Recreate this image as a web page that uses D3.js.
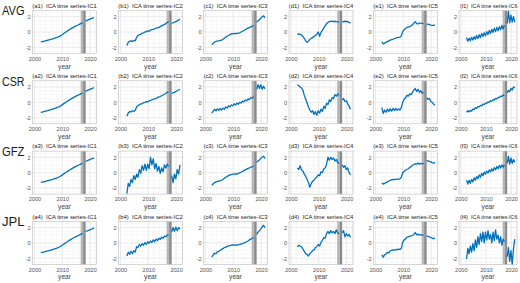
<!DOCTYPE html>
<html><head><meta charset="utf-8">
<script src="https://cdn.jsdelivr.net/npm/d3@7"></script>
<style>body{margin:0;background:#fff}svg{display:block}</style>
</head><body><svg id="c" width="520" height="283"></svg>
<script>
// time axis (decimal years): GRACE (31) + GRACE-FO (7)
const years = [2002.3,2002.8,2003.3,2003.8,2004.3,2004.8,2005.3,2005.8,2006.3,2006.8,2007.3,2007.8,2008.3,2008.8,2009.3,2009.8,2010.3,2010.8,2011.3,2011.8,2012.3,2012.8,2013.3,2013.8,2014.3,2014.8,2015.3,2015.8,2016.3,2016.8,2017.3,
  2018.4,2018.9,2019.4,2019.9,2020.4,2020.9,2021.4];
const rowNames = ["AVG","CSR","GFZ","JPL"];
const colLetters = ["a","b","c","d","e","f"];
const xTicks = [2000,2010,2020];
const yTicks = [-2,0,2];
const gapLight = [2016.6,2017.5];
const gapDark = [2017.5,2018.4];

// AVG
const avgIC1 = [-1.30,-1.26,-1.22,-1.17,-1.12,-1.07,-1.02,-0.97,-0.92,-0.86,-0.80,-0.74,-0.68,-0.60,-0.50,-0.38,-0.25,-0.12,0.00,0.12,0.24,0.36,0.47,0.57,0.67,0.76,0.85,0.94,1.03,1.12,1.20, 1.42,1.52,1.60,1.68,1.75,1.82,1.88];
const avgIC2 = [-1.75,-1.35,-1.20,-1.15,-1.25,-1.10,-1.15,-0.70,-0.45,-0.35,-0.30,-0.15,-0.10,0.00,0.05,0.15,0.10,0.25,0.30,0.35,0.40,0.50,0.55,0.60,0.70,0.80,0.90,0.95,1.10,1.25,1.40, 1.15,1.20,1.30,1.35,1.45,1.55,1.70];
const avgIC3 = [-1.65,-1.45,-1.30,-1.20,-1.18,-1.15,-1.10,-1.05,-0.95,-0.80,-0.65,-0.55,-0.45,-0.35,-0.25,-0.20,-0.20,-0.18,-0.22,-0.15,-0.10,0.00,0.10,0.20,0.30,0.40,0.50,0.58,0.66,0.75,0.82, 1.30,1.45,1.60,1.80,2.00,2.10,1.85];
const avgIC4 = [-0.35,-0.25,-0.30,-0.40,-0.55,-0.85,-1.15,-1.35,-1.20,-0.95,-0.85,-0.70,-0.60,-0.45,-0.30,0.00,-0.55,-0.05,0.20,0.55,0.80,1.10,1.25,1.35,1.38,1.40,1.35,1.40,1.35,1.32,1.30, 1.30,1.35,1.40,1.35,1.38,1.25,1.15];
const avgIC5 = [-1.30,-1.55,-1.45,-1.35,-1.25,-1.15,-1.05,-1.00,-0.95,-0.85,-0.80,-0.72,-0.70,-0.68,-0.50,0.05,0.30,0.45,0.60,0.65,0.70,0.80,0.95,1.15,1.35,1.10,1.05,1.15,1.15,1.12,1.10, 1.05,1.00,0.98,0.90,0.85,0.85,0.95];
const avgIC6 = [-0.75,-1.20,-0.80,-1.15,-0.70,-1.05,-0.60,-0.95,-0.45,-0.85,-0.35,-0.75,-0.20,-0.60,-0.10,-0.50,0.05,-0.35,0.20,-0.20,0.35,-0.05,0.50,0.05,0.60,0.15,0.70,0.30,0.85,0.40,0.90, 1.10,2.70,1.20,2.20,1.30,2.00,1.30];
// CSR
const csrIC1 = [-1.32,-1.27,-1.22,-1.17,-1.12,-1.07,-1.02,-0.97,-0.91,-0.85,-0.79,-0.73,-0.67,-0.59,-0.49,-0.37,-0.24,-0.11,0.01,0.13,0.25,0.37,0.48,0.58,0.68,0.77,0.86,0.95,1.04,1.13,1.21, 1.43,1.53,1.61,1.69,1.76,1.83,1.90];
const csrIC2 = [-1.80,-1.40,-1.20,-1.25,-1.10,-1.20,-1.05,-0.60,-0.40,-0.35,-0.20,-0.20,-0.05,0.00,0.10,0.05,0.20,0.25,0.30,0.40,0.45,0.50,0.60,0.70,0.75,0.85,0.95,1.05,1.15,1.30,1.40, 1.15,1.25,1.30,1.40,1.50,1.60,1.70];
const csrIC3 = [-1.40,-1.15,-0.90,-1.10,-0.85,-1.05,-0.80,-1.00,-0.75,-0.90,-0.60,-0.75,-0.45,-0.60,-0.35,-0.45,-0.20,-0.35,-0.10,-0.25,0.00,-0.10,0.15,0.05,0.30,0.20,0.45,0.35,0.60,0.55,0.75, 1.70,2.30,1.80,2.30,1.70,2.10,1.75];
const csrIC4 = [2.30,2.15,2.00,1.85,1.60,0.90,0.40,-0.10,-0.60,-1.00,-1.30,-1.10,-1.60,-1.20,-1.70,-1.10,-1.40,-0.90,-1.20,-0.50,-0.80,-0.10,-0.30,0.30,0.10,0.60,0.50,1.00,0.80,1.10,0.90, 0.30,0.50,0.10,0.20,-0.20,-0.50,-0.90];
const csrIC5 = [-0.70,-1.45,-1.00,-1.30,-0.90,-1.20,-0.85,-1.15,-0.80,-1.10,-0.80,-1.05,-0.85,-1.00,-0.70,0.00,0.40,0.60,0.90,0.80,1.10,1.00,1.30,1.60,1.80,1.40,1.70,1.30,1.50,1.20,1.25, 0.60,0.40,0.50,0.10,0.00,-0.25,-0.40];
const csrIC6 = [-1.30,-1.10,-1.25,-1.05,-1.15,-0.90,-0.95,-0.70,-0.80,-0.55,-0.60,-0.40,-0.45,-0.25,-0.30,-0.10,-0.15,0.05,0.00,0.20,0.15,0.35,0.30,0.50,0.45,0.65,0.60,0.80,0.75,0.95,0.90, 1.20,1.55,1.40,1.80,1.60,2.00,1.85];
// GFZ
const gfzIC1 = [-1.28,-1.24,-1.20,-1.16,-1.11,-1.06,-1.01,-0.96,-0.90,-0.84,-0.78,-0.72,-0.66,-0.58,-0.48,-0.36,-0.23,-0.10,0.02,0.14,0.26,0.38,0.49,0.59,0.69,0.78,0.87,0.96,1.05,1.14,1.22, 1.44,1.54,1.62,1.70,1.77,1.84,1.90];
const gfzIC2 = [-2.75,-1.40,-1.80,-0.90,-1.30,-0.40,-0.90,-0.20,-0.60,0.40,-0.10,0.90,0.30,1.10,0.30,1.10,0.50,2.00,1.00,1.80,0.50,1.20,0.20,0.80,-0.10,0.60,0.10,1.00,0.60,1.10,0.80, -0.40,-1.30,-0.20,-0.80,0.40,-0.20,1.00];
const gfzIC3 = [-1.65,-1.45,-1.30,-1.20,-1.15,-1.10,-1.05,-1.00,-0.90,-0.75,-0.60,-0.50,-0.40,-0.30,-0.25,-0.20,-0.20,-0.15,-0.20,-0.10,-0.05,0.05,0.15,0.25,0.35,0.45,0.55,0.62,0.70,0.78,0.85, 1.35,1.50,1.65,1.85,2.05,2.10,1.85];
const gfzIC4 = [0.60,0.40,0.90,0.35,0.20,-0.20,-0.50,-0.90,-1.30,-1.90,-1.40,-1.10,-1.00,-0.70,-0.60,-0.30,-0.40,0.10,0.00,0.50,0.60,1.10,2.00,1.60,2.00,1.70,1.90,1.50,1.70,1.30,1.20, 1.00,0.70,0.90,0.40,0.60,0.00,-0.30];
const gfzIC5 = [-1.35,-1.50,-1.40,-1.30,-1.20,-1.10,-1.00,-0.95,-0.90,-0.90,-0.88,-0.85,-0.85,-0.82,-0.60,0.00,0.15,0.30,0.40,0.50,0.65,0.80,0.95,1.05,1.15,1.10,1.25,1.10,1.20,1.15,1.20, 1.50,1.55,1.45,1.40,1.30,1.25,1.30];
const gfzIC6 = [-1.00,-1.50,-1.00,-1.40,-0.90,-1.20,-0.70,-1.00,-0.50,-0.80,-0.30,-0.60,-0.10,-0.40,0.05,-0.20,0.20,-0.05,0.35,0.10,0.50,0.20,0.65,0.35,0.80,0.50,0.95,0.60,1.00,0.70,1.00, 1.20,2.10,1.10,1.90,1.20,1.70,1.30];
// JPL
const jplIC1 = [-1.27,-1.23,-1.19,-1.15,-1.10,-1.05,-1.00,-0.95,-0.89,-0.83,-0.77,-0.71,-0.65,-0.57,-0.47,-0.35,-0.22,-0.09,0.03,0.15,0.27,0.39,0.50,0.60,0.70,0.79,0.88,0.97,1.06,1.15,1.23, 1.45,1.55,1.63,1.71,1.78,1.85,1.91];
const jplIC2 = [-1.70,-1.20,-1.50,-1.10,-1.40,-1.00,-1.20,-0.50,-0.60,-0.20,-0.40,-0.10,-0.30,0.05,-0.20,0.15,-0.05,0.25,0.05,0.40,0.15,0.50,0.30,0.60,0.45,0.75,0.60,0.90,0.80,1.05,1.00, 1.40,2.00,1.50,2.05,1.60,2.00,1.80];
const jplIC3 = [-1.85,-1.55,-1.35,-1.40,-1.15,-1.10,-0.95,-0.85,-0.75,-0.60,-0.55,-0.45,-0.40,-0.35,-0.30,-0.25,-0.30,-0.25,-0.30,-0.25,-0.20,-0.15,-0.10,0.00,0.05,0.15,0.25,0.40,0.50,0.60,0.70, 1.10,1.40,1.60,1.80,2.10,2.30,2.00];
const jplIC4 = [-0.50,-0.30,-0.40,-0.50,-0.80,-1.10,-1.40,-1.50,-1.70,-1.40,-1.20,-1.00,-0.90,-0.60,-0.50,-0.20,-0.40,0.10,0.30,0.70,0.60,1.20,1.50,1.20,1.60,1.30,1.50,1.20,1.70,1.30,1.20, 1.30,1.60,0.80,1.20,0.90,1.10,0.70];
const jplIC5 = [-1.55,-1.85,-1.55,-1.45,-1.25,-1.30,-1.05,-0.95,-0.90,-0.95,-0.85,-0.90,-0.80,-0.85,-0.70,0.10,0.40,0.50,0.75,0.80,0.85,0.90,1.00,1.10,1.35,1.05,1.15,1.00,1.10,1.00,1.00, 0.90,0.85,0.80,0.70,0.60,0.55,0.65];
const jplIC6 = [-2.10,-0.70,-1.40,-0.40,-1.20,-0.10,-1.00,0.40,-0.60,0.80,-0.20,1.20,0.20,1.40,0.00,1.40,0.40,1.60,0.50,1.10,0.00,1.40,0.30,1.70,0.50,1.00,0.00,0.80,-0.30,0.50,0.20, -1.80,-0.60,-2.40,-1.00,-2.80,-0.80,0.50];

const grid = [
  [avgIC1,avgIC2,avgIC3,avgIC4,avgIC5,avgIC6],
  [csrIC1,csrIC2,csrIC3,csrIC4,csrIC5,csrIC6],
  [gfzIC1,gfzIC2,gfzIC3,gfzIC4,gfzIC5,gfzIC6],
  [jplIC1,jplIC2,jplIC3,jplIC4,jplIC5,jplIC6]
];

const svg = d3.select("#c");
const FONT = "'Liberation Sans', Arial, sans-serif";
const colLeft = [32.5,118.5,203.5,289,373.5,459];
const colW = [64,64,64,64,64,58];
const plotH = 43;
const rowTop = [10.5,80.8,151.1,221.4];
const nGrace = 31;

rowNames.forEach((rn, r) => {
  svg.append("text").attr("x", 2).attr("y", rowTop[r] + 4.8)
    .attr("font-family", FONT).attr("font-size", 12.5).attr("fill", "#1a1a1a")
    .attr("textLength", 22.5).attr("lengthAdjust", "spacingAndGlyphs").text(rn);
  colLetters.forEach((cl, c) => {
    const x0 = colLeft[c], y0 = rowTop[r], plotW = colW[c];
    const x = d3.scaleLinear().domain([1999.3, 2022.3]).range([x0, x0 + plotW]);
    const y = d3.scaleLinear().domain([-2.8, 2.8]).range([y0 + plotH, y0]);
    const g = svg.append("g");
    // minor grid
    const xMinor = d3.range(2000, 2023, 2);
    const yMinor = d3.range(-2.5, 2.6, 0.5);
    g.selectAll(".xm").data(xMinor).join("line")
      .attr("x1", d => x(d)).attr("x2", d => x(d)).attr("y1", y0).attr("y2", y0 + plotH)
      .attr("stroke", "#f0f0f0").attr("stroke-width", 0.5);
    g.selectAll(".ym").data(yMinor).join("line")
      .attr("x1", x0).attr("x2", x0 + plotW).attr("y1", d => y(d)).attr("y2", d => y(d))
      .attr("stroke", "#f0f0f0").attr("stroke-width", 0.5);
    // major grid
    g.selectAll(".xg").data(xTicks).join("line")
      .attr("x1", d => x(d)).attr("x2", d => x(d)).attr("y1", y0).attr("y2", y0 + plotH)
      .attr("stroke", "#e0e0e0").attr("stroke-width", 0.6);
    g.selectAll(".yg").data(yTicks).join("line")
      .attr("x1", x0).attr("x2", x0 + plotW).attr("y1", d => y(d)).attr("y2", d => y(d))
      .attr("stroke", "#e0e0e0").attr("stroke-width", 0.6);
    // gap bands
    g.append("rect").attr("x", x(gapLight[0])).attr("y", y0)
      .attr("width", x(gapLight[1]) - x(gapLight[0])).attr("height", plotH).attr("fill", "#b8b8b8");
    g.append("rect").attr("x", x(gapDark[0])).attr("y", y0)
      .attr("width", x(gapDark[1]) - x(gapDark[0])).attr("height", plotH).attr("fill", "#8a8a8a");
    // data
    const vals = grid[r][c];
    const pts = years.map((t, i) => [t, vals[i]]);
    const line = d3.line().x(d => x(d[0])).y(d => y(d[1]));
    g.append("path").attr("d", line([pts[nGrace - 1], pts[nGrace]]))
      .attr("fill", "none").attr("stroke", "#8aa6c4").attr("stroke-width", 0.7);
    g.append("path").attr("d", line(pts.slice(0, nGrace)))
      .attr("fill", "none").attr("stroke", "#0072BD").attr("stroke-width", 1.3).attr("stroke-linejoin", "round");
    g.append("path").attr("d", line(pts.slice(nGrace)))
      .attr("fill", "none").attr("stroke", "#0072BD").attr("stroke-width", 1.3).attr("stroke-linejoin", "round");
    // box
    g.append("rect").attr("x", x0).attr("y", y0).attr("width", plotW).attr("height", plotH)
      .attr("fill", "none").attr("stroke", "#bcbcbc").attr("stroke-width", 0.6);
    // axes
    const xa = d3.axisBottom(x).tickValues(xTicks).tickSize(0).tickPadding(3.2).tickFormat(d3.format("d"));
    const ax = g.append("g").attr("transform", `translate(0,${y0 + plotH})`).call(xa);
    const ya = d3.axisLeft(y).tickValues(yTicks).tickSize(0).tickPadding(1.8).tickFormat(d => d < 0 ? "-" + Math.abs(d) : d);
    const ay = g.append("g").attr("transform", `translate(${x0},0)`).call(ya);
    [ax, ay].forEach(a => {
      a.select(".domain").remove();
      a.selectAll("text").attr("font-family", FONT).attr("font-size", 5.6).attr("fill", "#555");
    });
    g.append("text").attr("x", x0 + plotW / 2).attr("y", y0 + plotH + 15).attr("text-anchor", "middle")
      .attr("font-family", FONT).attr("font-size", 6.6).attr("fill", "#444").text("year");
    const last = c === colLetters.length - 1;
    g.append("text")
      .attr("x", last ? 517.5 : x0 + plotW / 2).attr("y", y0 - 2.8)
      .attr("text-anchor", last ? "end" : "middle")
      .attr("font-family", FONT).attr("font-size", last ? 5.4 : 5.9).attr("fill", "#1a1a1a")
      .attr("xml:space", "preserve")
      .text(`(${cl}${r + 1})  ICA time series-IC${c + 1}`);
  });
});
</script></body></html>
